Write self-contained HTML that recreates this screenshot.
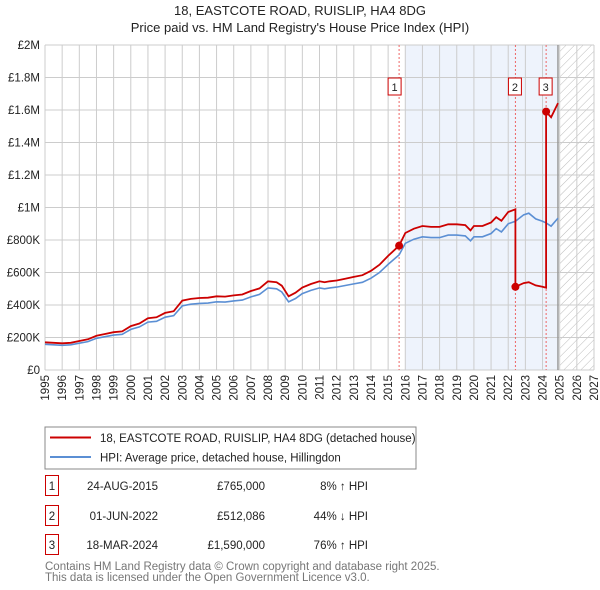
<!DOCTYPE html>
<html><head><meta charset="utf-8"><style>
body{margin:0;background:#fff;font-family:"Liberation Sans","DejaVu Sans",sans-serif;}
#wrap{position:relative;width:600px;height:590px;overflow:hidden;}
</style></head><body><div id="wrap">
<svg id="svg" width="600" height="590" xmlns="http://www.w3.org/2000/svg">
<defs><pattern id="hatch" width="6" height="6" patternUnits="userSpaceOnUse" patternTransform="rotate(45)"><line x1="0" y1="0" x2="0" y2="6" stroke="#bbb" stroke-width="1"/></pattern></defs>
<text x="300" y="15" text-anchor="middle" font-size="13" fill="#222">18, EASTCOTE ROAD, RUISLIP, HA4 8DG</text>
<text x="300" y="32" text-anchor="middle" font-size="13" fill="#222">Price paid vs. HM Land Registry's House Price Index (HPI)</text>
<g id="plot"></g>
<rect x="45" y="427" width="371" height="42" fill="#fff" stroke="#888"/>
<line x1="50" y1="437.5" x2="91" y2="437.5" stroke="#cc0000" stroke-width="2"/>
<text x="100" y="442" font-size="11.5" fill="#222">18, EASTCOTE ROAD, RUISLIP, HA4 8DG (detached house)</text>
<line x1="50" y1="457" x2="91" y2="457" stroke="#5b8fd4" stroke-width="2"/>
<text x="100" y="461.5" font-size="11.5" fill="#222">HPI: Average price, detached house, Hillingdon</text>
<g id="table" font-size="11.5" fill="#222"></g>
<text x="45" y="570" font-size="11.5" fill="#777">Contains HM Land Registry data © Crown copyright and database right 2025.</text>
<text x="45" y="581" font-size="11.5" fill="#777">This data is licensed under the Open Government Licence v3.0.</text>
</svg></div>
<script>
const yTicks=[0,200000,400000,600000,800000,1000000,1200000,1400000,1600000,1800000,2000000];
const yTickLabels=["£0","£200K","£400K","£600K","£800K","£1M","£1.2M","£1.4M","£1.6M","£1.8M","£2M"];
const hpiYears=[1995,1995.5,1996,1996.5,1997,1997.5,1998,1998.5,1999,1999.5,2000,2000.5,2001,2001.5,2002,2002.5,2003,2003.5,2004,2004.5,2005,2005.5,2006,2006.5,2007,2007.5,2008,2008.5,2008.8,2009.2,2009.6,2010,2010.5,2011,2011.3,2011.6,2012,2012.5,2013,2013.5,2014,2014.5,2015,2015.64,2016,2016.5,2017,2017.5,2018,2018.5,2019,2019.5,2019.8,2020,2020.5,2021,2021.3,2021.6,2022,2022.42,2022.9,2023.2,2023.6,2024,2024.21,2024.5,2024.9];
const hpiValues=[158,155,152,155,165,175,195,205,215,220,250,265,295,300,325,335,395,405,410,412,420,418,425,430,450,465,505,500,480,420,440,470,490,505,500,505,510,520,530,540,565,600,650,708,780,805,820,815,815,830,830,825,795,820,820,840,870,850,900,915,955,965,930,915,905,885,935];
const saleYears=[2015.64,2022.42,2024.21];
const salePrices=[765000,512086,1590000];
const saleDates=["24-AUG-2015","01-JUN-2022","18-MAR-2024"];
const salePriceLabels=["£765,000","£512,086","£1,590,000"];
const saleHpiLabels=["8% ↑ HPI","44% ↓ HPI","76% ↑ HPI"];
const xMin=1995,xMax=2027,L=45,R=594,T=45,B=370;
const X=y=>L+(y-xMin)/(xMax-xMin)*(R-L);
const Y=v=>B-v/2000000*(B-T);
const NS="http://www.w3.org/2000/svg";
const plot=document.getElementById('plot');
function mk(tag,attrs,parent){const e=document.createElementNS(NS,tag);for(const k in attrs)e.setAttribute(k,attrs[k]);(parent||plot).appendChild(e);return e;}
function hpiAt(y){for(let i=1;i<hpiYears.length;i++){if(y<=hpiYears[i]){const t=(y-hpiYears[i-1])/(hpiYears[i]-hpiYears[i-1]);return (hpiValues[i-1]+t*(hpiValues[i]-hpiValues[i-1]))*1000;}}return hpiValues[hpiValues.length-1]*1000;}
let r=mk('rect',{x:X(2016),y:T,width:X(2024.9)-X(2016),height:B-T,fill:'#eef3fc'});


r=mk('rect',{x:X(2025),y:T,width:R-X(2025),height:B-T,fill:'url(#hatch)'});


for(let yr=1995;yr<=2027;yr++){let g=mk('line',{x1:X(yr),x2:X(yr),y1:T,y2:B,stroke:'#ccc','stroke-width':1});


let t=mk('text',{x:0,y:0,transform:`translate(${X(yr)+4},${B+5}) rotate(-90)`,'text-anchor':'end','font-size':11.5,fill:'#222'});t.textContent=yr;

}
yTicks.forEach((v,i)=>{let g=mk('line',{x1:L,x2:R,y1:Y(v),y2:Y(v),stroke:'#ccc','stroke-width':1});


let t=mk('text',{x:L-5,y:Y(v)+4,'text-anchor':'end','font-size':11.5,fill:'#222'});t.textContent=yTickLabels[i];

});
let vl=mk('line',{x1:X(2024.9),x2:X(2024.9),y1:T,y2:B,stroke:'#999','stroke-width':1.5});


saleYears.forEach((s,i)=>{let l=mk('line',{x1:X(s),x2:X(s),y1:T,y2:B,stroke:'#e66','stroke-width':1,'stroke-dasharray':'2,2'});


const off=i==0?-4:0;
let bx=mk('rect',{x:X(s)-7+off,y:78,width:13,height:17,fill:'#fff',stroke:'#c00'});


let t=mk('text',{x:X(s)-0.5+off,y:91,'text-anchor':'middle','font-size':11,fill:'#222'});t.textContent=i+1;

});
let hp=hpiYears.map((y,i)=>X(y).toFixed(1)+','+Y(hpiValues[i]*1000).toFixed(1)).join(' ');
let hl=mk('polyline',{points:hp,fill:'none',stroke:'#5b8fd4','stroke-width':1.6});


let pts=[];
function ratioFor(y){let k=-1;for(let i=0;i<saleYears.length;i++)if(y>=saleYears[i])k=i;const idx=k<0?0:k;return salePrices[idx]/hpiAt(saleYears[idx]);}
let allY=hpiYears.slice();saleYears.forEach(s=>allY.push(s,s-0.001));allY.sort((a,b)=>a-b);
allY.forEach(y=>pts.push(X(y).toFixed(1)+','+Y(hpiAt(y)*ratioFor(y)).toFixed(1)));
let pl=mk('polyline',{points:pts.join(' '),fill:'none',stroke:'#cc0000','stroke-width':1.8});


saleYears.forEach((s,i)=>{let c=mk('circle',{cx:X(s),cy:Y(salePrices[i]),r:4,fill:'#cc0000'});

});
const tb=document.getElementById('table');
const rowY=[486,516,545];
saleDates.forEach((d,i)=>{const y=rowY[i];
let b=mk('rect',{x:45.5,y:y-10.5,width:13,height:20,fill:'#fff',stroke:'#c00'},tb);


let t=mk('text',{x:52,y:y+4,'text-anchor':'middle'},tb);t.textContent=i+1;


t=mk('text',{x:158,y:y+4,'text-anchor':'end'},tb);t.textContent=d;


t=mk('text',{x:265,y:y+4,'text-anchor':'end'},tb);t.textContent=salePriceLabels[i];


t=mk('text',{x:368,y:y+4,'text-anchor':'end'},tb);t.textContent=saleHpiLabels[i];

});
</script></body></html>
